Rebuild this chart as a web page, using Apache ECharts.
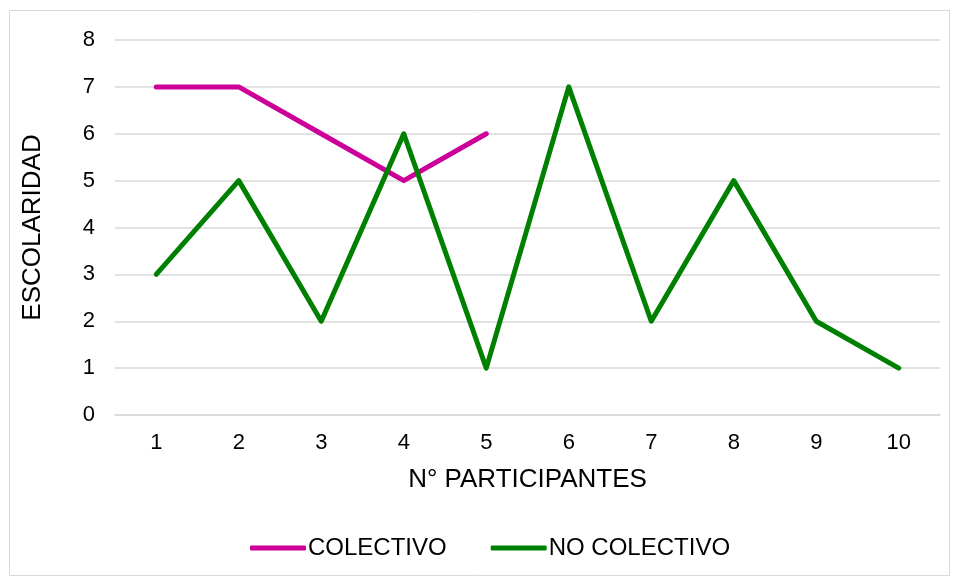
<!DOCTYPE html>
<html><head><meta charset="utf-8">
<script src="https://cdn.jsdelivr.net/npm/echarts@6/dist/echarts.min.js"></script>
<style>html,body{margin:0;padding:0;background:#fff}#c{width:956px;height:581px}</style>
</head><body><div id="c"></div>
<script>
const categories = ['1','2','3','4','5','6','7','8','9','10'];
const colectivo = [7, 7, 6, 5, 6];
const noColectivo = [3, 5, 2, 6, 1, 7, 2, 5, 2, 1];
const seriesNames = ['COLECTIVO', 'NO COLECTIVO'];
const font = '"Liberation Sans", Arial, sans-serif';
const chart = echarts.init(document.getElementById('c'));
chart.setOption({
  animation: false,
  graphic: [{type:'rect', shape:{x:9.5,y:10.5,width:940,height:565}, style:{fill:'none', stroke:'#d9d9d9', lineWidth:1}}],
  grid: {left:115, right:16, top:40, bottom:166, containLabel:false},
  legend: {
    bottom: 16, left: 245, itemWidth: 56, itemHeight: 5, itemGap: 44,
    icon: 'roundRect',
    textStyle: {fontFamily: font, fontSize: 24, color: '#000', padding:[0,0,0,-3]},
    data: seriesNames
  },
  xAxis: {
    type: 'category', data: categories, boundaryGap: true,
    name: 'N° PARTICIPANTES', nameLocation: 'middle', nameGap: 52,
    nameTextStyle: {fontFamily: font, fontSize: 26, color: '#000'},
    axisLine: {lineStyle: {color: '#d9d9d9', width: 1.5}},
    axisTick: {show: false},
    axisLabel: {fontFamily: font, fontSize: 22, color: '#000', margin: 17}
  },
  yAxis: {
    type: 'value', min: 0, max: 8, interval: 1,
    name: 'ESCOLARIDAD', nameLocation: 'middle', nameGap: 69, nameRotate: 90,
    nameTextStyle: {fontFamily: font, fontSize: 26, color: '#000'},
    axisLine: {show: false}, axisTick: {show: false},
    splitLine: {lineStyle: {color: '#d9d9d9', width: 1.5}},
    axisLabel: {fontFamily: font, fontSize: 22, color: '#000', margin: 20}
  },
  series: [
    {name: seriesNames[0], type: 'line', data: colectivo, symbol: 'none',
     lineStyle: {color: '#CC0099', width: 5, cap: 'round', join: 'round'}, itemStyle: {color: '#CC0099'}},
    {name: seriesNames[1], type: 'line', data: noColectivo, symbol: 'none',
     lineStyle: {color: '#008000', width: 5, cap: 'round', join: 'round'}, itemStyle: {color: '#008000'}}
  ]
});
</script></body></html>
